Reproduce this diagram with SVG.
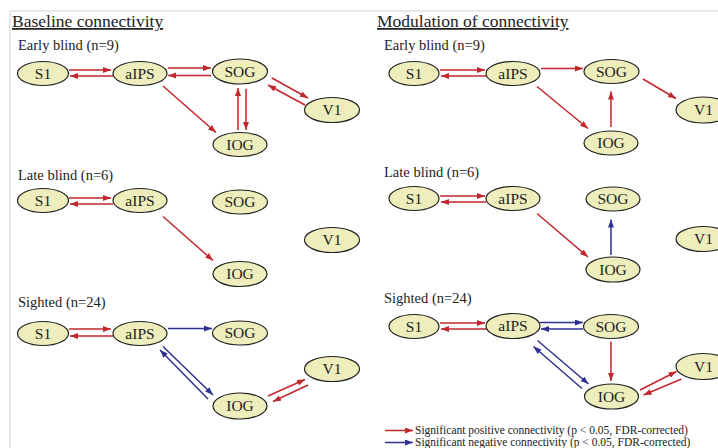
<svg xmlns="http://www.w3.org/2000/svg" width="718" height="448" viewBox="0 0 718 448">
<style>
.frame{stroke:#d2d2d2;stroke-width:1;fill:none}
.title{font-family:"Liberation Serif","Times New Roman",serif;font-size:17.5px;fill:#222;text-decoration:underline}
.group{font-family:"Liberation Serif","Times New Roman",serif;font-size:14.5px;fill:#222}
.node ellipse{fill:#eeeebd;stroke:#222;stroke-width:1.2}
.node text{font-family:"Liberation Serif","Times New Roman",serif;font-size:15.5px;fill:#222;text-anchor:middle}
.pos{stroke:#c1272d;stroke-width:1.5;fill:none;marker-end:url(#ar)}
.neg{stroke:#2e3192;stroke-width:1.5;fill:none;marker-end:url(#ab)}
.leg{font-family:"Liberation Serif","Times New Roman",serif;font-size:11.5px;fill:#222}
</style>
<defs>
<marker id="ar" markerUnits="userSpaceOnUse" markerWidth="9" markerHeight="7" refX="8" refY="3" orient="auto"><path d="M0,0 L8,3 L0,6 z" fill="#c1272d"/></marker>
<marker id="ab" markerUnits="userSpaceOnUse" markerWidth="9" markerHeight="7" refX="8" refY="3" orient="auto"><path d="M0,0 L8,3 L0,6 z" fill="#2e3192"/></marker>
</defs>
<rect width="718" height="448" fill="#ffffff"/>
<path class="frame" d="M10,448 L10,11 L718,11"/>

<text class="title" x="12" y="27">Baseline connectivity</text>
<text class="title" x="377" y="27">Modulation of connectivity</text>

<text class="group" x="18" y="50">Early blind (n=9)</text>
<text class="group" x="18" y="180">Late blind (n=6)</text>
<text class="group" x="18" y="307">Sighted (n=24)</text>
<text class="group" x="384" y="50">Early blind (n=9)</text>
<text class="group" x="384" y="177">Late blind (n=6)</text>
<text class="group" x="384" y="303">Sighted (n=24)</text>

<g id="connectors">
<!-- left early -->
<line class="pos" x1="69" y1="70" x2="111" y2="70"/>
<line class="pos" x1="113" y1="76" x2="70" y2="76"/>
<line class="pos" x1="168" y1="68" x2="211" y2="68"/>
<line class="pos" x1="211" y1="75.5" x2="168" y2="75.5"/>
<line class="pos" x1="163" y1="86" x2="216" y2="132.5"/>
<line class="pos" x1="238" y1="130" x2="238" y2="88"/>
<line class="pos" x1="246" y1="89" x2="246" y2="130"/>
<line class="pos" x1="272" y1="78" x2="308" y2="98"/>
<line class="pos" x1="305" y1="105" x2="268" y2="85"/>
<!-- left late -->
<line class="pos" x1="69" y1="198" x2="111" y2="198"/>
<line class="pos" x1="113" y1="204" x2="70" y2="204"/>
<line class="pos" x1="163" y1="216.5" x2="213" y2="260.5"/>
<!-- left sighted -->
<line class="pos" x1="69" y1="329" x2="111" y2="329"/>
<line class="pos" x1="113" y1="336" x2="70" y2="336"/>
<line class="neg" x1="168" y1="328.5" x2="212" y2="328.5"/>
<line class="neg" x1="163" y1="346.5" x2="213" y2="395"/>
<line class="neg" x1="208" y1="399" x2="160" y2="350"/>
<line class="pos" x1="268" y1="396" x2="305" y2="379.5"/>
<line class="pos" x1="308" y1="385" x2="273" y2="401.5"/>
<!-- right early -->
<line class="pos" x1="440" y1="70" x2="485" y2="70"/>
<line class="pos" x1="486" y1="76" x2="441" y2="76"/>
<line class="pos" x1="541" y1="68.5" x2="583" y2="68.5"/>
<line class="pos" x1="643" y1="79" x2="676" y2="98.5"/>
<line class="pos" x1="537" y1="86.5" x2="588" y2="128.5"/>
<line class="pos" x1="611" y1="127" x2="611" y2="91.5"/>
<!-- right late -->
<line class="pos" x1="440" y1="196" x2="485" y2="196"/>
<line class="pos" x1="486" y1="202" x2="441" y2="202"/>
<line class="pos" x1="537" y1="213.5" x2="588" y2="257"/>
<line class="neg" x1="611" y1="255" x2="611" y2="219.5"/>
<!-- right sighted -->
<line class="pos" x1="440" y1="323" x2="485" y2="323"/>
<line class="pos" x1="486" y1="329" x2="441" y2="329"/>
<line class="neg" x1="540" y1="322.5" x2="583" y2="322.5"/>
<line class="neg" x1="583" y1="329" x2="541" y2="329"/>
<line class="pos" x1="611" y1="341.5" x2="611" y2="381"/>
<line class="neg" x1="537.5" y1="340.5" x2="588.5" y2="384"/>
<line class="neg" x1="582" y1="388.5" x2="533.5" y2="346.5"/>
<line class="pos" x1="640" y1="390" x2="676.5" y2="371.5"/>
<line class="pos" x1="681.5" y1="379" x2="643.5" y2="395"/>
</g>

<!-- left early nodes -->
<g id="lb-early-S1" class="node"><ellipse cx="43" cy="73.5" rx="25.5" ry="12"/><text x="43" y="78.5">S1</text></g>
<g id="lb-early-aIPS" class="node"><ellipse cx="140" cy="73.5" rx="27" ry="12"/><text x="140" y="78.5">aIPS</text></g>
<g id="lb-early-SOG" class="node"><ellipse cx="240" cy="71.5" rx="27.5" ry="12.5"/><text x="240" y="76.5">SOG</text></g>
<g id="lb-early-V1" class="node"><ellipse cx="332" cy="110" rx="27.5" ry="12.5"/><text x="332" y="115">V1</text></g>
<g id="lb-early-IOG" class="node"><ellipse cx="240" cy="144.5" rx="27" ry="12"/><text x="240" y="149.5">IOG</text></g>
<!-- left late nodes -->
<g id="lb-late-S1" class="node"><ellipse cx="43" cy="200.5" rx="25.5" ry="12"/><text x="43" y="205.5">S1</text></g>
<g id="lb-late-aIPS" class="node"><ellipse cx="140" cy="200.5" rx="27" ry="12"/><text x="140" y="205.5">aIPS</text></g>
<g id="lb-late-SOG" class="node"><ellipse cx="240" cy="202" rx="27.5" ry="12"/><text x="240" y="207">SOG</text></g>
<g id="lb-late-V1" class="node"><ellipse cx="332" cy="240" rx="27.5" ry="12.5"/><text x="332" y="245">V1</text></g>
<g id="lb-late-IOG" class="node"><ellipse cx="240" cy="274" rx="27" ry="12.5"/><text x="240" y="279">IOG</text></g>
<!-- left sighted nodes -->
<g id="lb-s-S1" class="node"><ellipse cx="43" cy="333.5" rx="25.5" ry="12"/><text x="43" y="338.5">S1</text></g>
<g id="lb-s-aIPS" class="node"><ellipse cx="140" cy="333.5" rx="27" ry="12"/><text x="140" y="338.5">aIPS</text></g>
<g id="lb-s-SOG" class="node"><ellipse cx="240" cy="333" rx="27.5" ry="12"/><text x="240" y="338">SOG</text></g>
<g id="lb-s-V1" class="node"><ellipse cx="332" cy="369" rx="27.5" ry="12.5"/><text x="332" y="374">V1</text></g>
<g id="lb-s-IOG" class="node"><ellipse cx="240" cy="406" rx="27" ry="13"/><text x="240" y="411">IOG</text></g>

<!-- right early nodes -->
<g id="mc-early-S1" class="node"><ellipse cx="414" cy="73.5" rx="25" ry="12"/><text x="414" y="78.5">S1</text></g>
<g id="mc-early-aIPS" class="node"><ellipse cx="513" cy="73.5" rx="27" ry="12"/><text x="513" y="78.5">aIPS</text></g>
<g id="mc-early-SOG" class="node"><ellipse cx="611.5" cy="71.5" rx="27.5" ry="12"/><text x="611.5" y="76.5">SOG</text></g>
<g id="mc-early-V1" class="node"><ellipse cx="703.5" cy="110" rx="27.5" ry="13"/><text x="703.5" y="115">V1</text></g>
<g id="mc-early-IOG" class="node"><ellipse cx="611" cy="143" rx="27" ry="12"/><text x="611" y="148">IOG</text></g>
<!-- right late nodes -->
<g id="mc-late-S1" class="node"><ellipse cx="414" cy="198.5" rx="25" ry="12"/><text x="414" y="203.5">S1</text></g>
<g id="mc-late-aIPS" class="node"><ellipse cx="513" cy="198.5" rx="27" ry="12"/><text x="513" y="203.5">aIPS</text></g>
<g id="mc-late-SOG" class="node"><ellipse cx="613" cy="199" rx="27" ry="12"/><text x="613" y="204">SOG</text></g>
<g id="mc-late-V1" class="node"><ellipse cx="703.5" cy="239" rx="27.5" ry="12.5"/><text x="703.5" y="244">V1</text></g>
<g id="mc-late-IOG" class="node"><ellipse cx="613" cy="269.5" rx="27" ry="12.5"/><text x="613" y="274.5">IOG</text></g>
<!-- right sighted nodes -->
<g id="mc-s-S1" class="node"><ellipse cx="414" cy="326.5" rx="25" ry="12"/><text x="414" y="331.5">S1</text></g>
<g id="mc-s-aIPS" class="node"><ellipse cx="513" cy="326" rx="27" ry="12.5"/><text x="513" y="331">aIPS</text></g>
<g id="mc-s-SOG" class="node"><ellipse cx="611" cy="326.5" rx="27.5" ry="12"/><text x="611" y="331.5">SOG</text></g>
<g id="mc-s-V1" class="node"><ellipse cx="703.5" cy="366.5" rx="27.5" ry="13"/><text x="703.5" y="371.5">V1</text></g>
<g id="mc-s-IOG" class="node"><ellipse cx="611.5" cy="396.5" rx="27" ry="12.5"/><text x="611.5" y="401.5">IOG</text></g>

<g id="legend">
<line class="pos" x1="385" y1="430.5" x2="413" y2="430.5"/>
<line class="neg" x1="385" y1="442.5" x2="413" y2="442.5"/>
<text class="leg" x="415" y="434">Significant positive connectivity (p &lt; 0.05, FDR-corrected)</text>
<text class="leg" x="415" y="446">Significant negative connectivity (p &lt; 0.05, FDR-corrected)</text>
</g>
</svg>
